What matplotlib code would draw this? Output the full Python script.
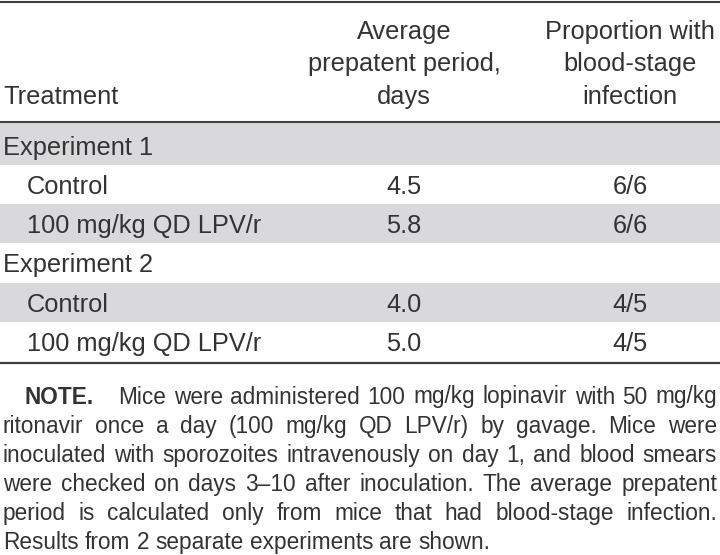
import matplotlib
matplotlib.use("Agg")
import matplotlib.pyplot as plt
from matplotlib import font_manager

# ---- data ----
header_treatment = "Treatment"
header_period = ["Average", "prepatent period,", "days"]
header_prop = ["Proportion with", "blood-stage", "infection"]

row_labels = ["Experiment 1", "Control", "100 mg/kg QD LPV/r",
              "Experiment 2", "Control", "100 mg/kg QD LPV/r"]
row_is_group = [True, False, False, True, False, False]
period_values = ["", "4.5", "5.8", "", "4.0", "5.0"]
proportion_values = ["", "6/6", "6/6", "", "4/5", "4/5"]

note_bold = "NOTE."
note_lines = [
    "Mice were administered 100 mg/kg lopinavir with 50 mg/kg",
    "ritonavir once a day (100 mg/kg QD LPV/r) by gavage. Mice were",
    "inoculated with sporozoites intravenously on day 1, and blood smears",
    "were checked on days 3\u201310 after inoculation. The average prepatent",
    "period is calculated only from mice that had blood-stage infection.",
    "Results from 2 separate experiments are shown.",
]

# ---- style ----
W, H = 720, 555
TXT = "#333333"
GREY = "#d9d9db"
LINE = "#404040"
FONT = "Liberation Sans"

fig = plt.figure(figsize=(W / 100, H / 100), dpi=100)
ax = fig.add_axes([0, 0, 1, 1])
ax.set_xlim(0, W)
ax.set_ylim(H, 0)
ax.axis("off")

# band geometry
band_tops = [123, 165, 204, 243, 283, 322, 362]
shade = [True, False, True, False, True, False]
for i, s in enumerate(shade):
    if s:
        ax.axhspan(band_tops[i], band_tops[i + 1], xmin=0, xmax=1,
                   color=GREY, lw=0, zorder=0)

# rules
ax.axhline(1.5, color=LINE, lw=1.5, zorder=3)
ax.axhline(122, color=LINE, lw=1.5, zorder=3)
ax.axhline(363, color=LINE, lw=1.6, zorder=3)

FS = 18.3
col1_x = 3
col1_indent = 27
col2_x = 404
col3_x = 630

# header
hdr_base = [39, 71.5, 104]
ax.text(col1_x, hdr_base[2], header_treatment, fontsize=FS, family=FONT,
        color=TXT, ha="left", va="baseline")
for j, t in enumerate(header_period):
    ax.text(col2_x, hdr_base[j], t, fontsize=FS, family=FONT, color=TXT,
            ha="center", va="baseline")
for j, t in enumerate(header_prop):
    ax.text(col3_x, hdr_base[j], t, fontsize=FS, family=FONT, color=TXT,
            ha="center", va="baseline")

row_base = [155, 194, 233, 272, 312, 351]
for i, lab in enumerate(row_labels):
    x = col1_x if row_is_group[i] else col1_indent
    ax.text(x, row_base[i], lab, fontsize=FS, family=FONT, color=TXT,
            ha="left", va="baseline")
    if period_values[i]:
        ax.text(col2_x, row_base[i], period_values[i], fontsize=FS,
                family=FONT, color=TXT, ha="center", va="baseline")
    if proportion_values[i]:
        ax.text(col3_x, row_base[i], proportion_values[i], fontsize=FS,
                family=FONT, color=TXT, ha="center", va="baseline")

# ---- justified note ----
renderer = fig.canvas.get_renderer()
NFS = 16.3
note_base = [403.5 + 29.1 * k for k in range(len(note_lines))]
left, right = 3, 717


def width_of(t):
    return t.get_window_extent(renderer=renderer).width


nb = ax.text(25, note_base[0], note_bold, fontsize=NFS, family=FONT,
             weight="bold", color=TXT, ha="left", va="baseline")
first_start = 118

sp_probe = ax.text(0, 0, "a a", fontsize=NFS, family=FONT)
a_only = ax.text(0, 0, "aa", fontsize=NFS, family=FONT)
natural_space = width_of(sp_probe) - width_of(a_only)
sp_probe.remove()
a_only.remove()

for k, line in enumerate(note_lines):
    words = line.split(" ")
    x0 = first_start if k == 0 else left
    texts = [ax.text(0, note_base[k], w, fontsize=NFS, family=FONT,
                     color=TXT, ha="left", va="baseline") for w in words]
    widths = [width_of(t) for t in texts]
    if k == len(note_lines) - 1:
        gap = natural_space
    else:
        gap = (right - x0 - sum(widths)) / (len(words) - 1)
    x = x0
    for t, w in zip(texts, widths):
        t.set_x(x)
        x += w + gap

fig.savefig("out.png", dpi=100, facecolor="white")
